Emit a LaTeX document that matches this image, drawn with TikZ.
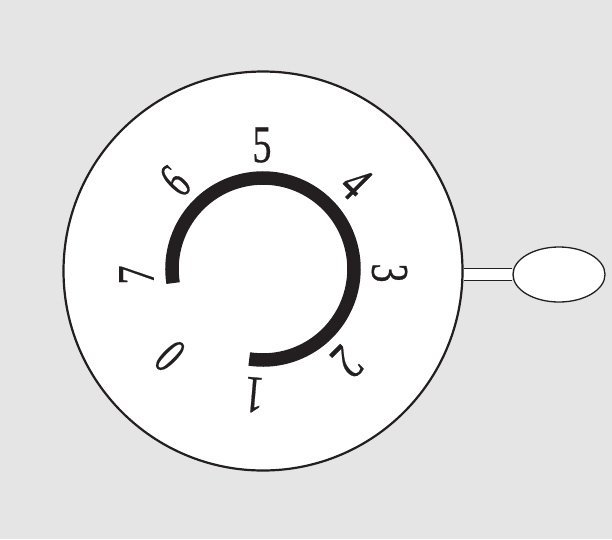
\documentclass[tikz,border=0pt]{standalone}
\usepackage{fontspec}
\setmainfont{Liberation Serif}[FakeBold=0.5]
\definecolor{panel}{HTML}{E5E5E5}
\definecolor{ink}{HTML}{231F20}
\tikzset{
  dialface/.style={circle,draw=ink,fill=white,line width=2.2pt,minimum size=399pt,inner sep=0pt},
  knob/.style={ellipse,draw=ink,fill=white,line width=1.3pt,minimum width=92pt,minimum height=55pt,inner sep=0pt},
  stem/.style={draw=ink,double=white,double distance=11.5pt,line width=1.2pt},
  scalearc/.style={draw=ink,line width=13.5pt},
  digit/.style={text=ink,inner sep=0pt,font=\fontsize{53pt}{53pt}\selectfont}
}
\newcommand{\dg}[1]{\scalebox{.72}[1]{#1}}
\newcommand{\dgn}[1]{\scalebox{.62}[1]{#1}}
\usetikzlibrary{shapes.geometric}
\begin{document}
\begin{tikzpicture}[x=1pt,y=-1pt]
\useasboundingbox (0,0) rectangle (612,539);
\fill[panel] (0,0) rectangle (612,539);
\node[dialface] (dial) at (263,271) {};
\node[knob] (handle) at (559,274.5) {};
\draw[stem] (handle.west) -- (handle.west -| dial.east);
\coordinate (hub) at (263,269);
\draw[scalearc] (hub) ++(188.9:91pt) arc[start angle=188.9,end angle=-98.7,radius=91pt];
\node[digit,rotate=0] (d5) at (262,145) {\dg{5}};
\node[digit,rotate=45] (d6) at (175,181) {\dgn{6}};
\node[digit,rotate=90] (d7) at (136.5,275) {\dg{7}};
\node[digit,rotate=135] (d0) at (170,356) {\dgn{0}};
\node[digit,rotate=175] (d1) at (254,395) {\dg{1}};
\node[digit,rotate=-135] (d2) at (347,362) {\dg{2}};
\node[digit,rotate=-90] (d3) at (389.5,273) {\dg{3}};
\node[digit,rotate=-45] (d4) at (356,183) {\dg{4}};
\end{tikzpicture}
\end{document}
